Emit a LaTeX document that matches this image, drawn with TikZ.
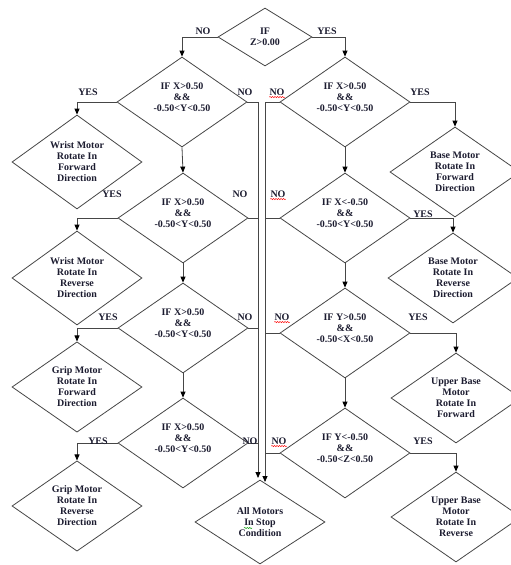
\documentclass[tikz,border=0pt]{standalone}
\usepackage{fontspec}
\setmainfont{Liberation Serif}
\usetikzlibrary{shapes.geometric,arrows.meta,decorations.pathmorphing}
\definecolor{txt}{RGB}{28,28,48}
\definecolor{ln}{RGB}{70,70,70}
\begin{document}
\begin{tikzpicture}[x=1pt,y=-1pt,
  line/.style={draw=ln, line width=0.8pt},
  arr/.style={line, -{Triangle[length=6pt,width=5pt,color=black]}},
  dia/.style={diamond, draw=ln, line width=0.8pt, inner sep=0pt,
    minimum width=130pt, minimum height=90pt, align=center,
    font=\bfseries\fontsize{10}{11}\selectfont, text=txt},
  dtext/.style={align=center, inner sep=0pt, font=\bfseries\fontsize{10}{11}\selectfont, text=txt, yshift=5pt},
  dec/.style={dia, label={[dtext]center:#1}},
  lbl/.style={font=\bfseries\fontsize{10}{11}\selectfont, text=txt, inner sep=0pt},
  squig/.style={decorate, decoration={snake, amplitude=0.6pt, segment length=2.5pt}, line width=0.5pt}
]
\useasboundingbox (0,0) rectangle (511,565);

% top decision
\node[dia, minimum width=94pt, minimum height=58pt] (top) at (265,37) {IF\\Z>0.00};

% left decisions
\node[dec={IF X>0.50\\\&\&\\-0.50<Y<0.50}] (L1) at (182,102) {};
\node[dec={IF X>0.50\\\&\&\\-0.50<Y<0.50}] (L2) at (183,218) {};
\node[dec={IF X>0.50\\\&\&\\-0.50<Y<0.50}] (L3) at (183,328) {};
\node[dec={IF X>0.50\\\&\&\\-0.50<Y<0.50}] (L4) at (183,443) {};

% right decisions
\node[dec={IF X>0.50\\\&\&\\-0.50<Y<0.50}] (R1) at (345,102) {};
\node[dec={IF X<-0.50\\\&\&\\-0.50<Y<0.50}] (R2) at (345,218) {};
\node[dec={IF Y>0.50\\\&\&\\-0.50<X<0.50}] (R3) at (345,333) {};
\node[dec={IF Y<-0.50\\\&\&\\-0.50<Z<0.50}] (R4) at (345,453) {};

% left motors
\node[dia] (W1) at (77,162) {Wrist Motor\\Rotate In\\Forward\\Direction};
\node[dia] (W2) at (77,278) {Wrist Motor\\Rotate In\\Reverse\\Direction};
\node[dia] (G1) at (77,387) {Grip Motor\\Rotate In\\Forward\\Direction};
\node[dia] (G2) at (77,506) {Grip Motor\\Rotate In\\Reverse\\Direction};

% right motors
\node[dia] (B1) at (455,172) {Base Motor\\Rotate In\\Forward\\Direction};
\node[dia] (B2) at (453,278) {Base Motor\\Rotate In\\Reverse\\Direction};
\node[dia] (U1) at (456,398) {Upper Base\\Motor\\Rotate In\\Forward};
\node[dia] (U2) at (456,517) {Upper Base\\Motor\\Rotate In\\Reverse};

% stop
\node[dia, minimum height=84pt] (All) at (260,522) {All Motors\\In Stop\\Condition};

% top branches
\draw[arr] (top.west) -| (L1.north);
\draw[arr] (top.east) -| (R1.north);

% left chain
\draw[arr] (L1.south) -- (L2.north);
\draw[arr] (L2.south) -- (L3.north);
\draw[arr] (L3.south) -- (L4.north);
\draw[arr] (L1.west) -| (W1.north);
\draw[arr] (L2.west) -| (W2.north);
\draw[arr] (L3.west) -| (G1.north);
\draw[arr] (L4.west) -| (G2.north);

% right chain
\draw[arr] (R1.south) -- (R2.north);
\draw[arr] (R2.south) -- (R3.north);
\draw[arr] (R3.south) -- (R4.north);
\draw[arr] (R1.east) -| (B1.north);
\draw[arr] (R2.east) -| (B2.north);
\draw[arr] (R3.east) -| (U1.north);
\draw[arr] (R4.east) -| (U2.north);

% collectors
\coordinate (cL) at (258,102);
\coordinate (cLend) at (258,478);
\coordinate (cR) at (265,102);
\coordinate (cRend) at (265,482);
\draw[line] (L1.east) -- (L1.east -| cL);
\draw[line] (L2.east) -- (L2.east -| cL);
\draw[line] (L3.east) -- (L3.east -| cL);
\draw[line] (L4.east) -- (L4.east -| cL);
\draw[line] (R1.west) -- (R1.west -| cR);
\draw[line] (R2.west) -- (R2.west -| cR);
\draw[line] (R3.west) -- (R3.west -| cR);
\draw[line] (R4.west) -- (R4.west -| cR);
\draw[arr] (cL) -- (cLend);
\draw[arr] (cR) -- (cRend);

% labels
\node[lbl] (t0n) at (203,31) {NO};
\node[lbl] (t0y) at (327,31) {YES};
\node[lbl] (l1y) at (88,92) {YES};
\node[lbl] (l1n) at (245,92) {NO};
\node[lbl] (l2y) at (112,194) {YES};
\node[lbl] (l2n) at (240,194) {NO};
\node[lbl] (l3y) at (108,317) {YES};
\node[lbl] (l3n) at (245,317) {NO};
\node[lbl] (l4y) at (98,441) {YES};
\node[lbl] (l4n) at (250,441) {NO};
\node[lbl] (r1n) at (277,92) {NO};
\node[lbl] (r1y) at (420,92) {YES};
\node[lbl] (r2n) at (278,194) {NO};
\node[lbl] (r2y) at (423,214) {YES};
\node[lbl] (r3n) at (282,317) {NO};
\node[lbl] (r3y) at (418,317) {YES};
\node[lbl] (r4n) at (279,441) {NO};
\node[lbl] (r4y) at (423,441) {YES};

% spell-check squiggles
\draw[red, squig] ([yshift=-1.5pt]r1n.south west) -- ([yshift=-1.5pt]r1n.south east);
\draw[red, squig] ([yshift=-1.5pt]r2n.south west) -- ([yshift=-1.5pt]r2n.south east);
\draw[red, squig] ([yshift=-1.5pt]r3n.south west) -- ([yshift=-1.5pt]r3n.south east);
\draw[red, squig] ([yshift=-1.5pt]r4n.south west) -- ([yshift=-1.5pt]r4n.south east);
\coordinate (gs1) at (244,528);
\coordinate (gs2) at (252,528);
\draw[green!60!black, squig] (gs1) -- (gs2);
\end{tikzpicture}
\end{document}
